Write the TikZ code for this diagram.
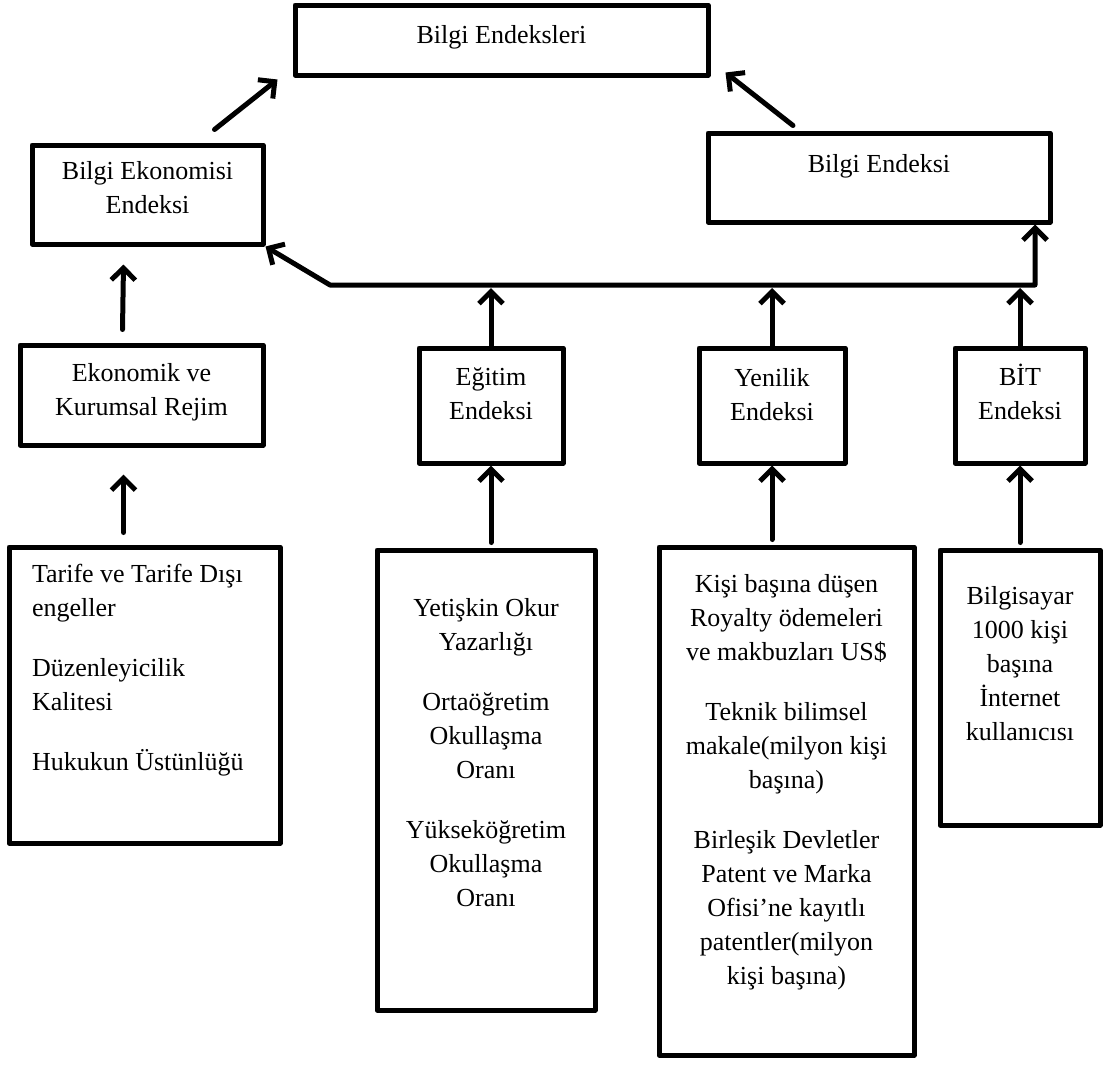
\documentclass[tikz,border=0pt]{standalone}
\usepackage{fontspec}
\setmainfont{Liberation Serif}
\usetikzlibrary{positioning,arrows.meta}
\begin{document}
\begin{tikzpicture}[x=1pt, y=-1pt, line width=5pt, line join=round, line cap=round,
	>={Straight Barb[length=12pt,width=24pt]}, font=\fontsize{26}{34}\selectfont,
	box/.style={draw, rectangle, inner sep=0pt},
	txt/.style={inner sep=0pt, align=center}]
	\useasboundingbox (0,0) rectangle (1103,1066);
	% boxes
	\node[box, minimum width=413pt, minimum height=70pt] (idx) at (501.5,40) {};
	\node[box, minimum width=231pt, minimum height=99pt] (bee) at (147.5,194.5) {};
	\node[box, minimum width=342pt, minimum height=89pt] (be) at (879,177.5) {};
	\node[box, minimum width=243pt, minimum height=100pt] (eko) at (141.5,395) {};
	\node[box, minimum width=144pt, minimum height=115pt] (egt) at (491,405.5) {};
	\node[box, minimum width=146pt, minimum height=115pt] (yen) at (772,405.5) {};
	\node[box, minimum width=130pt, minimum height=115pt] (bit) at (1020,405.5) {};
	\node[box, minimum width=271pt, minimum height=296pt] (tar) at (144.5,695) {};
	\node[box, minimum width=218pt, minimum height=460pt] (edu) at (486,780) {};
	\node[box, minimum width=255pt, minimum height=508pt] (inn) at (786.5,801) {};
	\node[box, minimum width=160pt, minimum height=275pt] (ict) at (1020,687.5) {};
	% texts
	\node[txt, below=20pt of idx.north] {Bilgi Endeksleri};
	\node[txt, below=16pt of bee.north] {Bilgi Ekonomisi\\ Endeksi};
	\node[txt, below=21pt of be.north] {Bilgi Endeksi};
	\node[txt, below=18pt of eko.north] {Ekonomik ve\\ Kurumsal Rejim};
	\node[txt, below=20pt of egt.north] {Eğitim\\ Endeksi};
	\node[txt, below=20pt of yen.north] {Yenilik\\ Endeksi};
	\node[txt, below=16pt of bit.north] {BİT\\ Endeksi};
	\node[txt, align=left, below right=17pt and 23pt of tar.north west]
		{Tarife ve Tarife Dışı\\ engeller\\[26pt] Düzenleyicilik\\ Kalitesi\\[26pt] Hukukun Üstünlüğü};
	\node[txt, below=48pt of edu.north]
		{Yetişkin Okur\\ Yazarlığı\\[26pt] Ortaöğretim\\ Okullaşma\\ Oranı\\[26pt] Yükseköğretim\\ Okullaşma\\ Oranı};
	\node[txt, below=27pt of inn.north]
		{Kişi başına düşen\\ Royalty ödemeleri\\ ve makbuzları US\$\\[26pt] Teknik bilimsel\\ makale(milyon kişi\\ başına)\\[26pt]
		Birleşik Devletler\\ Patent ve Marka\\ Ofisi’ne kayıtlı\\ patentler(milyon\\ kişi başına)};
	\node[txt, below=36pt of ict.north] {Bilgisayar\\ 1000 kişi\\ başına\\ İnternet\\ kullanıcısı};
	% connectors
	\coordinate (hl) at (330,285);
	\coordinate (hr) at (1035,285);
	\draw[<->] (bee.south east) -- (hl) -- (hr) -- (hr |- be.south);
	\draw[->] ([xshift=67pt,yshift=13pt]bee.north) -- ([xshift=-15pt,yshift=-2pt]idx.south west);
	\draw[->] ([xshift=-86pt,yshift=5pt]be.north) -- ([xshift=15pt,yshift=5pt]idx.south east);
	\draw[->] ([xshift=-19pt,yshift=13pt]eko.north) -- ([xshift=-24pt,yshift=-18pt]bee.south);
	\draw[->] ([xshift=-21pt,yshift=12pt]tar.north) -- ([xshift=-18pt,yshift=-27pt]eko.south);
	\foreach \b/\s in {egt/edu, yen/inn, bit/ict}{
		\draw[->] ([yshift=5pt]\s.north -| \b.south) -- (\b.south);
		\draw[->] (\b.north) -- ([yshift=-3pt]\b.north |- hl);
	}
\end{tikzpicture}
\end{document}
